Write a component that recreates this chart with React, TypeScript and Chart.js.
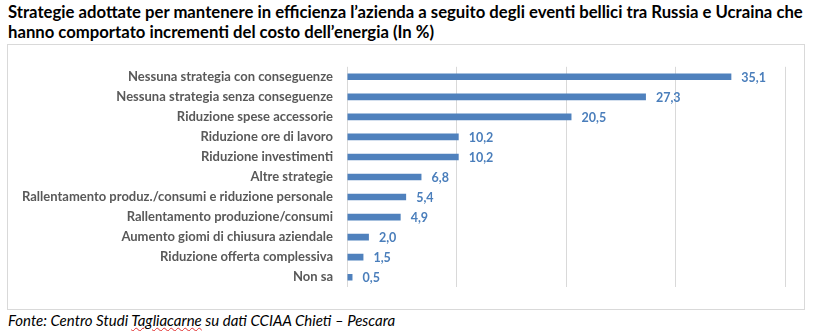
import React, { useEffect, useRef } from "react";
import { Chart, registerables } from "chart.js";

Chart.register(...registerables);

const titleText =
  "Strategie adottate per mantenere in efficienza l\u2019azienda a seguito degli eventi bellici tra Russia e Ucraina che hanno comportato incrementi del costo dell\u2019energia (In %)";

const categories = [
  "Nessuna strategia con conseguenze",
  "Nessuna strategia senza conseguenze",
  "Riduzione spese accessorie",
  "Riduzione ore di lavoro",
  "Riduzione investimenti",
  "Altre strategie",
  "Rallentamento produz./consumi e riduzione personale",
  "Rallentamento produzione/consumi",
  "Aumento giomi di chiusura aziendale",
  "Riduzione offerta complessiva",
  "Non sa",
];

const values = [35.1, 27.3, 20.5, 10.2, 10.2, 6.8, 5.4, 4.9, 2.0, 1.5, 0.5];

const xMin = 0;
const xMax = 40;
const xStep = 10;

const BAR_COLOR = "#4F81BD";
const LABEL_COLOR = "#4A7EBB";
const CAT_COLOR = "#595959";
const GRID_COLOR = "#D9D9D9";
const FONT = "Lato, 'Open Sans', sans-serif";

const valueLabelPlugin = {
  id: "valueLabels",
  afterDatasetsDraw(chart: any) {
    const ctx = chart.ctx;
    const meta = chart.getDatasetMeta(0);
    ctx.save();
    ctx.font = `bold 12.5px ${FONT}`;
    ctx.fillStyle = LABEL_COLOR;
    ctx.textAlign = "left";
    ctx.textBaseline = "middle";
    meta.data.forEach((bar: any, i: number) => {
      const txt = values[i].toFixed(1).replace(".", ",");
      ctx.fillText(txt, bar.x + 10, bar.y + 1);
    });
    ctx.restore();
  },
};

export default function App() {
  const canvasRef = useRef<HTMLCanvasElement | null>(null);

  useEffect(() => {
    if (!canvasRef.current) return;
    const chart = new Chart(canvasRef.current, {
      type: "bar",
      data: {
        labels: categories,
        datasets: [
          {
            data: values,
            backgroundColor: BAR_COLOR,
            borderWidth: 0,
            barPercentage: 0.33,
            categoryPercentage: 1,
          },
        ],
      },
      options: {
        indexAxis: "y",
        animation: false,
        responsive: false,
        maintainAspectRatio: false,
        layout: { padding: { left: 0, right: 19, top: 18, bottom: 17 } },
        plugins: {
          legend: { display: false },
          tooltip: { enabled: false },
          title: { display: false },
        },
        scales: {
          x: {
            min: xMin,
            max: xMax,
            ticks: { stepSize: xStep, display: false },
            grid: { color: GRID_COLOR, drawTicks: false, lineWidth: 1 },
            border: { display: false },
            afterFit: (scale: any) => {
              scale.height = 0;
            },
          },
          y: {
            grid: { display: false, drawTicks: false },
            border: { display: false },
            ticks: {
              color: CAT_COLOR,
              padding: 14,
              font: { family: FONT, size: 13, weight: "bold" },
              autoSkip: false,
            },
            afterFit: (scale: any) => {
              scale.width = 339;
            },
          },
        },
      },
      plugins: [valueLabelPlugin],
    });
    return () => chart.destroy();
  }, []);

  return (
    <div
      style={{
        position: "absolute",
        left: 0,
        top: 0,
        width: 815,
        height: 331,
        background: "#fff",
        overflow: "hidden",
      }}
    >
      <div
        style={{
          position: "absolute",
          left: 8,
          top: 2,
          width: 807,
          fontFamily: FONT,
          fontWeight: "bold",
          fontSize: 16.7,
          lineHeight: "20px",
          color: "#000",
        }}
      >
        {titleText}
      </div>
      <div
        style={{
          position: "absolute",
          left: 7,
          top: 44,
          width: 796,
          height: 264,
          border: `1px solid ${GRID_COLOR}`,
        }}
      >
        <canvas
          ref={canvasRef}
          width={796}
          height={264}
          style={{ display: "block", width: 796, height: 264 }}
        />
      </div>
      <div
        style={{
          position: "absolute",
          left: 8,
          top: 312,
          fontFamily: FONT,
          fontStyle: "italic",
          fontSize: 15,
          lineHeight: "16px",
          color: "#000",
          whiteSpace: "nowrap",
        }}
      >
        Fonte: Centro Studi{" "}
        <span
          style={{
            textDecorationLine: "underline",
            textDecorationStyle: "wavy",
            textDecorationColor: "#E03030",
            textDecorationThickness: "1px",
            textUnderlineOffset: "1px",
          }}
        >
          Tagliacarne
        </span>{" "}
        su dati CCIAA Chieti – Pescara
      </div>
    </div>
  );
}
